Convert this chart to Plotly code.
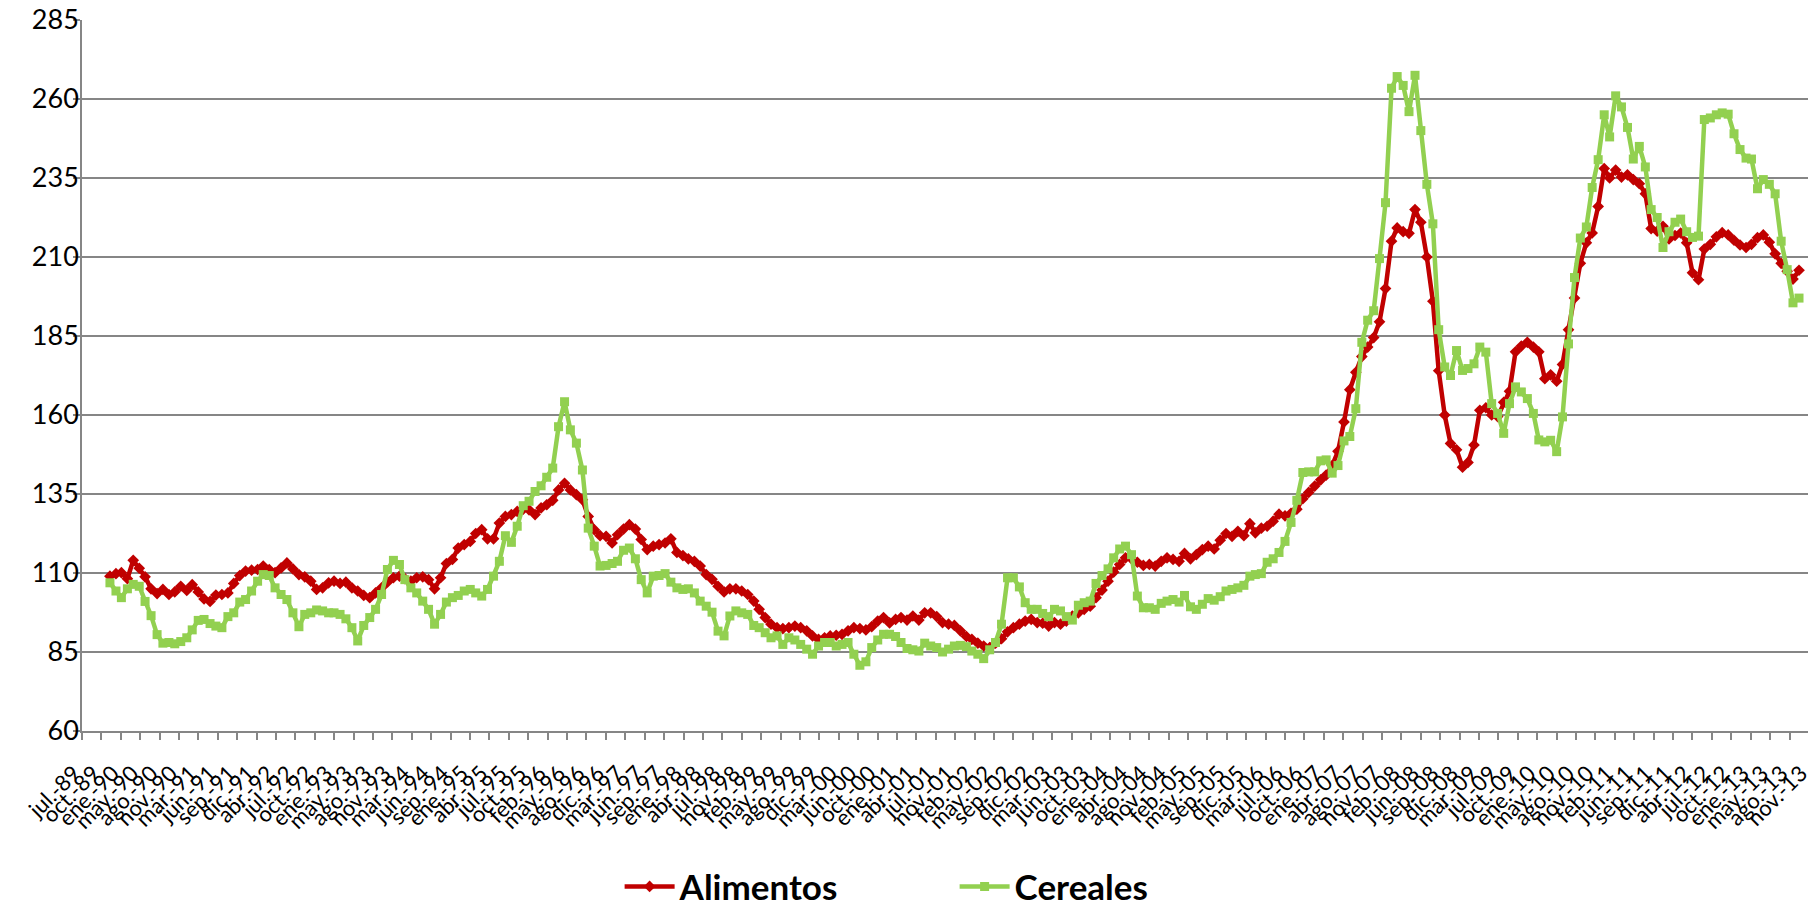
import plotly.graph_objects as go
import pandas as pd

# ---- data -------------------------------------------------------------
tick_labels = [
    "jul.-89", "oct.-89", "ene.-90", "may.-90", "ago.-90", "nov.-90", "mar.-91", "jun.-91", "sep.-91", "dic.-91",
    "abr.-92", "jul.-92", "oct.-92", "ene.-93", "may.-93", "ago.-93", "nov.-93", "mar.-94", "jun.-94", "sep.-94",
    "ene.-95", "abr.-95", "jul.-95", "oct.-95", "feb.-96", "may.-96", "ago.-96", "dic.-96", "mar.-97", "jun.-97",
    "sep.-97", "ene.-98", "abr.-98", "jul.-98", "nov.-98", "feb.-99", "may.-99", "ago.-99", "dic.-99", "mar.-00",
    "jun.-00", "oct.-00", "ene.-01", "abr.-01", "jul.-01", "nov.-01", "feb.-02", "may.-02", "sep.-02", "dic.-02",
    "mar.-03", "jun.-03", "oct.-03", "ene.-04", "abr.-04", "ago.-04", "nov.-04", "feb.-05", "may.-05", "sep.-05",
    "dic.-05", "mar.-06", "jul.-06", "oct.-06", "ene.-07", "abr.-07", "ago.-07", "nov.-07", "feb.-08", "jun.-08",
    "sep.-08", "dic.-08", "mar.-09", "jul.-09", "oct.-09", "ene.-10", "may.-10", "ago.-10", "nov.-10", "feb.-11",
    "jun.-11", "sep.-11", "dic.-11", "abr.-12", "jul.-12", "oct.-12", "ene.-13", "may.-13", "ago.-13", "nov.-13",
]

first_month = "1990-01-01"      # monthly series, ene-1990 ... nov-2013
axis_start = "1989-08-10"       # date axis origin (major unit = 100 days)
tick_step_days = 100

alimentos = [
    109.0, 109.8, 110.1, 108.2, 114.0, 111.5, 108.8, 105.0, 103.5, 104.8,
    103.2, 104.0, 105.8, 104.5, 106.3, 104.0, 101.8, 101.0, 103.0, 103.2,
    103.7, 106.7, 109.2, 110.6, 110.9, 111.1, 112.2, 111.1, 110.1, 111.6,
    113.2, 111.3, 109.5, 108.8, 107.4, 104.8, 105.3, 106.9, 107.4, 106.7,
    107.1, 105.3, 104.3, 102.9, 102.2, 103.7, 105.3, 107.1, 108.5, 109.0,
    108.2, 107.4, 108.5, 108.8, 107.9, 105.0, 108.5, 113.0, 114.3, 117.9,
    119.0, 120.0, 122.5, 123.7, 120.8, 120.8, 125.8, 127.9, 128.5, 129.5,
    130.2, 130.0, 128.5, 130.6, 131.6, 133.0, 136.3, 138.4, 136.3, 134.8,
    133.2, 127.9, 123.7, 121.8, 121.6, 119.5, 122.1, 123.9, 125.3, 123.9,
    120.6, 117.4, 118.5, 119.0, 119.5, 120.8, 116.5,
    115.5, 114.5, 113.7, 112.2, 109.5, 108.0, 105.8, 104.0, 105.0, 105.0,
    104.3, 103.2, 101.1, 98.5, 95.9, 93.8, 92.7, 92.4, 92.7, 93.2,
    92.7, 91.7, 90.1, 89.0, 89.5, 90.1, 90.3, 90.6, 91.7, 92.7,
    92.4, 92.0, 93.0, 94.8, 95.9, 94.2, 95.3, 95.9, 95.1, 96.4,
    95.1, 97.4, 97.4, 96.2, 94.3, 93.8, 93.4, 91.7, 89.9, 89.0,
    87.8, 86.9, 86.4, 87.8, 89.2, 91.4, 92.7, 93.8, 94.8, 95.3,
    94.3, 94.1, 93.2, 94.3, 93.8, 94.8, 96.4, 97.4, 98.5, 99.5,
    102.2, 104.6, 107.4, 110.3, 112.7, 114.8, 114.5, 113.4, 112.4, 112.7,
    112.2, 113.7, 114.8, 114.3, 113.7, 116.2, 114.5, 115.8, 117.4, 118.5,
    117.6, 120.4, 122.5, 121.6, 123.2, 121.8, 125.6, 122.7, 124.2, 124.8,
    126.4,
    128.6, 128.1, 128.9, 130.2, 133.5, 135.5, 137.5, 139.5, 141.0, 144.0,
    148.5, 157.8, 168.0, 173.5, 178.5, 181.5, 184.5, 189.5, 200.0, 215.0,
    219.2, 218.0, 217.5, 225.0, 221.0, 210.0, 196.0, 174.0, 160.0, 151.0,
    149.0, 143.5, 145.0, 150.5, 161.5, 162.3, 160.0, 159.5, 164.0, 167.5,
    180.0, 181.8, 183.0, 181.5, 180.0, 171.5, 172.7, 170.7, 176.0, 187.0,
    197.0, 208.0, 214.5, 217.6, 226.0, 238.0, 235.0, 237.5, 235.3, 236.0,
    234.5, 233.2, 230.0, 219.0, 218.2, 219.7, 215.7, 216.8, 217.6, 214.5,
    205.0, 202.8, 212.5, 214.0, 216.4, 217.7, 217.0, 215.3, 213.8, 213.0,
    214.0, 216.1, 217.0, 214.7, 211.0, 208.0, 205.5, 203.0, 205.8,
]

cereales = [
    106.9, 104.3, 102.2, 105.0, 106.4, 105.8, 101.0, 96.5, 90.5, 87.8,
    88.0, 87.6, 88.3, 89.5, 92.0, 95.0, 95.3, 94.0, 93.2, 92.7,
    96.2, 97.4, 100.8, 101.6, 104.3, 107.4, 109.5, 109.2, 105.3, 103.2,
    101.6, 97.4, 93.0, 96.9, 97.4, 98.3, 98.0, 97.4, 97.4, 96.9,
    95.5, 92.7, 88.5, 93.4, 95.9, 98.5, 103.2, 111.1, 114.0, 112.7,
    107.9, 105.3, 103.7, 101.1, 98.5, 93.8, 96.9, 100.8, 102.2, 102.9,
    104.3, 104.8, 103.7, 102.7, 104.8, 109.0, 113.7, 121.8, 119.7, 124.8,
    131.3, 132.7, 135.8, 137.6, 140.3, 143.2, 156.3, 164.2, 155.3, 151.1,
    142.6, 124.2, 118.5, 112.2, 112.4, 113.0, 113.7, 117.2, 117.9, 114.5,
    107.9, 103.7, 109.0, 109.2, 109.8, 107.1, 105.3,
    104.8, 105.0, 103.7, 101.1, 99.5, 97.6, 91.6, 90.1, 96.4, 98.0,
    97.4, 96.9, 93.4, 92.7, 91.1, 89.5, 90.1, 87.4, 89.5, 88.8,
    87.4, 85.9, 84.3, 86.9, 88.0, 88.0, 86.9, 87.4, 88.0, 84.3,
    80.8, 81.9, 86.4, 88.8, 90.6, 90.6, 89.9, 88.0, 86.1, 85.7,
    85.3, 87.8, 86.9, 86.4, 85.0, 85.9, 86.9, 87.1, 86.7, 85.3,
    84.3, 82.9, 85.7, 88.0, 93.8, 108.5, 108.5, 105.6, 100.6, 98.5,
    98.5, 97.2, 96.2, 98.5, 98.0, 96.2, 95.1, 99.8, 100.6, 101.1,
    106.7, 109.2, 111.3, 114.8, 117.6, 118.5, 115.8, 102.7, 99.0, 99.0,
    98.5, 100.4, 101.1, 101.6, 100.8, 102.9, 99.3, 98.5, 100.1, 101.9,
    101.4, 102.5, 104.3, 104.8, 105.3, 106.1, 109.0, 109.5, 109.8, 113.4,
    114.5,
    116.5, 120.0, 126.0, 133.0, 141.8, 142.0, 142.0, 145.5, 145.8, 141.6,
    144.0, 151.8, 153.2, 162.0, 183.0, 190.0, 193.0, 209.5, 227.2, 263.4,
    267.1, 264.3, 256.0, 267.5, 250.0, 233.0, 220.5, 187.0, 175.2, 172.5,
    180.4, 174.1, 174.7, 176.2, 181.5, 179.9, 163.6, 160.5, 154.2, 163.6,
    168.9, 167.3, 165.2, 160.5, 152.1, 151.5, 152.0, 148.4, 159.4, 182.5,
    203.5, 216.0, 219.5, 232.0, 240.8, 255.0, 248.0, 261.0, 257.5, 251.0,
    241.0, 245.0, 238.5, 225.0, 222.5, 213.0, 218.0, 221.0, 222.0, 218.0,
    216.2, 216.6, 253.5, 254.0, 255.0, 255.6, 255.2, 249.0, 244.0, 241.3,
    241.0, 231.6, 234.5, 233.0, 230.0, 215.0, 206.0, 195.5, 197.0,
]

# ---- figure -----------------------------------------------------------
months = pd.date_range(first_month, periods=len(alimentos), freq="MS")
start = pd.Timestamp(axis_start)
tickvals = [start + pd.Timedelta(days=tick_step_days * k) for k in range(len(tick_labels))]
x_range = [tickvals[0], tickvals[-1] + pd.Timedelta(hours=12)]

RED = "#C00000"
GREEN = "#92D050"
GRID = "#868686"

fig = go.Figure()
fig.add_trace(go.Scatter(
    x=months, y=alimentos, name="Alimentos", mode="lines+markers",
    line=dict(color=RED, width=4.5),
    marker=dict(symbol="diamond", size=9, color=RED),
))
fig.add_trace(go.Scatter(
    x=months, y=cereales, name="Cereales", mode="lines+markers",
    line=dict(color=GREEN, width=4.5),
    marker=dict(symbol="square", size=9, color=GREEN),
))

# the page body has an 8px margin, so the figure is sized to fit the window
fig.update_layout(
    width=1808, height=899,
    margin=dict(l=74, r=7, t=12, b=176, autoexpand=False),
    paper_bgcolor="white", plot_bgcolor="white",
    font=dict(family="Lato, Carlito, Calibri, sans-serif", color="black"),
    showlegend=True,
    legend=dict(
        orientation="h", x=0.3113, xanchor="left", y=-0.219, yanchor="middle",
        font=dict(size=35, weight="bold", color="black"),
        entrywidth=270, itemwidth=50,
    ),
    xaxis=dict(
        type="date", range=x_range,
        tickmode="array", tickvals=tickvals, ticktext=tick_labels,
        tickangle=-45, tickfont=dict(size=22, color="black"),
        ticklabelstandoff=12, ticklabelshift=-8, ticklabeloverflow="allow",
        ticks="outside", ticklen=7, tickwidth=1.5, tickcolor=GRID,
        showline=True, linecolor=GRID, linewidth=1.5,
        showgrid=False, zeroline=False, automargin=False,
    ),
    yaxis=dict(
        range=[60, 285], tick0=60, dtick=25,
        tickfont=dict(size=27, color="black"),
        ticklabelstandoff=-11, ticklabeloverflow="allow",
        ticks="outside", ticklen=7, tickwidth=1.5, tickcolor=GRID,
        showline=True, linecolor=GRID, linewidth=1.5,
        showgrid=True, gridcolor=GRID, gridwidth=1.5, zeroline=False,
        automargin=False,
    ),
)

fig.write_html("out.html")
